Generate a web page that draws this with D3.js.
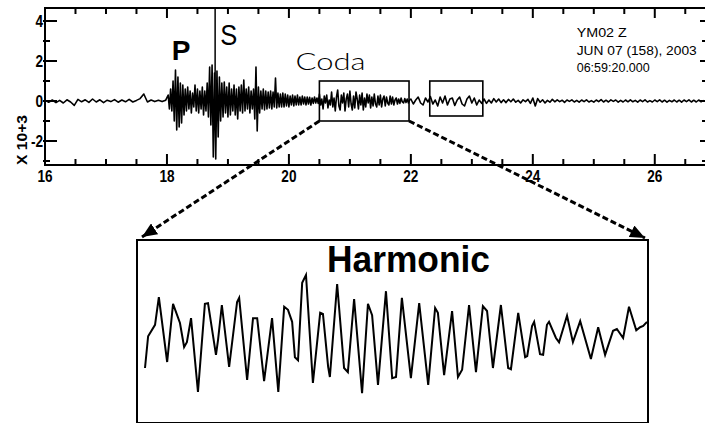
<!DOCTYPE html>
<html>
<head>
<meta charset="utf-8">
<title>YM02 Z seismogram - coda</title>
<script src="https://d3js.org/d3.v7.min.js"></script>
<style>
  body { margin: 0; background: #fff; }
  svg { display: block; font-family: 'Liberation Sans', Arial, sans-serif; }
</style>
</head>
<body>
<svg></svg>
<script>
var width = 705, height = 423;

// time axis in seconds after 06:59, amplitude in counts x 10^3
var xTickLabels = [16, 18, 20, 22, 24, 26];
var yTickLabels = [-2, 0, 2, 4];
var stationLines = ["YM02  Z", "JUN 07 (158), 2003", "06:59:20.000"];

// trace (each piece has its own sample step)
var preEventTrace = [0.04,-0.06,0.05,-0.08,0.03,-0.1,0.06,-0.05,-0.22,0.08,-0.04,0.06,-0.07,0.1,-0.05,0.06,-0.08,0.04,
  -0.03,0.07,-0.06,0.05,-0.04,0.08,-0.05,0.03,0.12,0.35,-0.05,0.05,-0.03,0.04,-0.03,0.04];
var bodyWaveTrace = [0.3,-0.4,0.6,-0.5,
  1.0,-1.0,1.55,-1.45,1.2,-1.3,0.9,-1.1,0.8,-0.7,
  0.6,-0.5,0.7,-0.4,0.5,-0.6,0.4,-0.3,0.8,-0.5,
  0.6,-0.6,0.5,-0.4,0.7,-0.7,0.5,-0.5,0.9,-0.8,
  1.7,-1.2,1.8,-2.8,1.4,-2.9,1.5,-1.8,1.2,-1.0,
  0.9,-0.8,0.95,-0.6,0.7,-0.8,0.9,-0.7,0.6,-0.5,
  0.8,-0.7,0.6,-0.9,0.7,-0.5,0.8,-0.6,1.05,-0.5,
  0.6,-0.4,0.7,-0.6,0.5,-0.4,0.6,-0.9,1.7,-1.5,
  0.7,-0.6,0.5,-0.4,0.6,-0.45,0.5,-0.4,0.45,-0.35,
  0.5,-0.4,0.45,-0.3,1.15,-0.35,0.4,-0.3,0.35,-0.3,
  0.4,-0.3,0.35,-0.25,0.3,-0.3,0.25,-0.2,0.3,-0.25,
  0.25,-0.2,0.3,-0.2,0.2,-0.2,0.25,-0.15,0.2,-0.2,
  0.2,-0.15,0.18,-0.2,0.15,-0.12,0.2,-0.1,0.15,-0.12];
var codaTrace = [0.35,-0.2,0.1,-0.4,0.25,-0.1,0.3,-0.35,0.05,-0.2,
  0.45,-0.3,0.15,-0.5,0.2,0.55,-0.25,-0.45,0.3,-0.1,
  0.4,-0.5,0.1,0.35,-0.3,0.5,-0.15,-0.45,0.25,-0.35,
  0.45,0.1,-0.4,0.3,-0.2,0.4,-0.45,0.15,-0.3,0.35,
  -0.1,0.3,-0.35,0.2,-0.25,0.35,-0.15,-0.3,0.25,-0.2,
  0.3,-0.3,0.1,0.25,-0.25,0.2,-0.1,-0.2,0.25,-0.15,
  0.2,-0.2,0.05,0.15,-0.15,0.1,-0.12,0.15,-0.05,-0.1,
  0.12,-0.08,0.1,-0.1,0.05];
var tailTrace = [0.1,-0.15,0.05,0.2,-0.1,-0.2,0.15,-0.05,0.22,-0.15,
  0.05,-0.25,0.2,-0.1,0.25,-0.2,0.1,0.15,-0.22,0.05,
  0.2,-0.15,-0.25,0.1,0.25,-0.1,0.15,-0.2,0.05,-0.12,
  0.1,-0.12,0.05,-0.1,0.12,-0.05,0.1,-0.08,0.06,-0.08,
  0.08,-0.04,0.1,-0.06,0.03,-0.1,0.06,-0.03,0.08,-0.12,
  0.15,-0.25,0.12,-0.06,0.06,-0.1,0.03,-0.06,0.08,-0.04,
  0.06,-0.03,0.04,-0.07,0.05,-0.02,0.06,-0.05,0.03,-0.06,
  0.05,-0.03,0.06,-0.05,0.02,-0.06,0.05,-0.03,0.07,-0.05,
  0.04,-0.05,0.06,-0.02,0.05,-0.06,0.03,-0.05,0.05,-0.04,
  0.06,-0.04,0.03,-0.06,0.05,-0.03,0.06,-0.05,0.02,-0.05,
  0.05,-0.03,0.06,-0.05,0.04,-0.06,0.03,-0.04,0.05,-0.05,
  0.04,-0.06,0.05,-0.03,0.06,-0.05,0.04,-0.05,0.05,-0.04,0.03];
var traceSegments = [
  {start: 16.00, step: 0.06, values: preEventTrace},
  {start: 18.02, step: 0.02, values: bodyWaveTrace},
  {start: 20.50, step: 0.02, values: codaTrace},
  {start: 22.00, step: 0.04, values: tailTrace}
];

// boxed windows on the record (seconds, counts x 10^3)
var windowStart = [20.5, 22.31];
var windowEnd = [21.97, 23.18];
var windowLow = [-1.0, -0.75];
var windowHigh = [1.0, 1.0];

// zoomed harmonic coda: ms after window start, relative amplitude
var harmonicMs = [0,9,29,40,64,81,101,113,121,133,153,173,182,205,211,222,243,266,272,295,312,324,344,367,385,
  402,413,425,433,442,454,465,485,506,514,529,534,555,575,586,604,627,644,656,673,696,714,725,742,768,792,818,
  838,846,864,887,904,916,936,956,976,988,1005,1028,1049,1057,1078,1098,1104,1118,1124,1141,1150,1161,1167,
  1187,1196,1219,1236,1257,1288,1309,1329,1352,1363,1381,1398,1419,1430,1439,1450];
var harmonicAmp = [-0.5,0.03,0.22,0.68,-0.4,0.57,0.25,-0.15,-0.07,0.33,-0.9,0.57,0.58,-0.28,-0.03,0.55,-0.48,0.6,
  0.67,-0.7,0.33,0.33,-0.72,0.33,-0.9,0.52,0.47,0.27,-0.32,-0.37,0.92,1.05,-0.75,0.42,0.4,-0.48,-0.65,0.9,-0.5,
  -0.57,0.65,-0.92,0.57,0.38,-0.78,0.78,-0.67,-0.65,0.67,-0.67,0.58,-0.78,0.5,0.42,-0.62,0.45,-0.65,-0.53,0.55,
  -0.57,0.53,0.45,-0.5,0.55,-0.5,-0.52,0.42,-0.32,-0.3,0.2,0.27,-0.27,-0.28,0.22,0.27,0,-0.07,0.37,-0.07,0.28,
  -0.35,0.18,-0.28,0.12,0.15,0,0.52,0.13,0.18,0.2,0.27];

var svg = d3.select('svg').attr('width', width).attr('height', height);

var plot = {left: 45, top: 8, right: 706, bottom: 165};
var x = d3.scaleLinear().domain([16, 26.84]).range([plot.left, plot.right]);
var y = d3.scaleLinear().domain([-3.2, 4.65]).range([plot.bottom, plot.top]);

svg.append('defs').append('clipPath').attr('id', 'plotclip')
  .append('rect')
  .attr('x', plot.left).attr('y', plot.top)
  .attr('width', plot.right - plot.left).attr('height', plot.bottom - plot.top);

var tracePoints = [];
traceSegments.forEach(function (s) {
  s.values.forEach(function (v, i) {
    tracePoints.push([s.start + i * s.step, v]);
  });
});

var line = d3.line()
  .x(function (d) { return x(d[0]); })
  .y(function (d) { return y(d[1]); });

svg.append('path')
  .datum(tracePoints)
  .attr('clip-path', 'url(#plotclip)')
  .attr('d', line)
  .attr('fill', 'none')
  .attr('stroke', '#000')
  .attr('stroke-width', 1.6)
  .attr('stroke-linejoin', 'round');

// frame
svg.append('rect')
  .attr('x', plot.left).attr('y', plot.top)
  .attr('width', plot.right - plot.left).attr('height', plot.bottom - plot.top)
  .attr('fill', 'none').attr('stroke', '#000').attr('stroke-width', 2);

// inward ticks on every side
var xTicks = d3.range(16, 26.84, 0.5);
var yTicks = d3.range(-3, 5, 1);
function isMajor(d) { return d % 2 === 0; }

var ticks = svg.append('g').attr('stroke', '#000').attr('stroke-width', 2);
ticks.selectAll('.xb').data(xTicks).enter().append('line')
  .attr('x1', function (d) { return x(d); }).attr('x2', function (d) { return x(d); })
  .attr('y1', plot.bottom).attr('y2', function (d) { return plot.bottom - (isMajor(d) ? 11 : 6); });
ticks.selectAll('.xt').data(xTicks).enter().append('line')
  .attr('x1', function (d) { return x(d); }).attr('x2', function (d) { return x(d); })
  .attr('y1', plot.top).attr('y2', function (d) { return plot.top + (isMajor(d) ? 10 : 6); });
ticks.selectAll('.yl').data(yTicks).enter().append('line')
  .attr('y1', function (d) { return y(d); }).attr('y2', function (d) { return y(d); })
  .attr('x1', plot.left - 2).attr('x2', function (d) { return plot.left + (isMajor(d) ? 12 : 5); });
ticks.selectAll('.yr').data(yTicks).enter().append('line')
  .attr('y1', function (d) { return y(d); }).attr('y2', function (d) { return y(d); })
  .attr('x1', plot.right).attr('x2', function (d) { return plot.right - (isMajor(d) ? 6 : 4); });

// tick labels (narrow bold)
svg.selectAll('.xlab').data(xTickLabels).enter().append('text')
  .attr('transform', function (d) { return 'translate(' + x(d) + ',182) scale(0.85,1)'; })
  .attr('text-anchor', 'middle')
  .style('font-size', '16px').style('font-weight', 'bold')
  .text(function (d) { return d; });

svg.selectAll('.ylab').data(yTickLabels).enter().append('text')
  .attr('transform', function (d) { return 'translate(43,' + (y(d) + 6) + ') scale(0.85,1)'; })
  .attr('text-anchor', 'end')
  .style('font-size', '16px').style('font-weight', 'bold')
  .text(function (d) { return d; });

svg.append('text')
  .attr('transform', 'translate(27,140) rotate(-90)')
  .attr('text-anchor', 'middle')
  .attr('textLength', 50).attr('lengthAdjust', 'spacingAndGlyphs')
  .style('font-size', '14px').style('font-weight', 'bold')
  .text('X 10+3');

// S pick marker and phase labels
svg.append('line')
  .attr('x1', x(18.79)).attr('x2', x(18.79))
  .attr('y1', plot.top).attr('y2', y(0))
  .attr('stroke', '#000').attr('stroke-width', 1.5);

svg.append('text')
  .attr('x', x(18.08)).attr('y', y(2.05))
  .style('font-size', '28px').style('font-weight', 'bold')
  .text('P');

svg.append('text')
  .attr('transform', 'translate(' + x(18.875) + ',' + y(2.8) + ') scale(0.85,1)')
  .style('font-size', '30px')
  .text('S');

svg.append('text')
  .attr('x', x(20.11)).attr('y', y(1.55))
  .attr('textLength', 70).attr('lengthAdjust', 'spacingAndGlyphs')
  .style('font-family', 'Lato, sans-serif').style('font-weight', 300)
  .style('font-size', '24px')
  .text('Coda');

// station header
var headerY = [3.2, 2.32, 1.45];
var headerLen = [50, 120, 73];
svg.selectAll('.hdr').data(stationLines).enter().append('text')
  .attr('x', x(24.72))
  .attr('y', function (d, i) { return y(headerY[i]); })
  .attr('textLength', function (d, i) { return headerLen[i]; })
  .attr('lengthAdjust', 'spacingAndGlyphs')
  .style('font-size', '12.5px')
  .text(function (d) { return d; });

// boxed windows
svg.selectAll('.win').data(windowStart).enter().append('rect')
  .attr('x', function (d) { return x(d); })
  .attr('y', function (d, i) { return y(windowHigh[i]); })
  .attr('width', function (d, i) { return x(windowEnd[i]) - x(d); })
  .attr('height', function (d, i) { return y(windowLow[i]) - y(windowHigh[i]); })
  .attr('fill', 'none').attr('stroke', '#000').attr('stroke-width', 1.6);

// zoom inset
var inset = {left: 137, top: 240, right: 648, bottom: 423};
var ix = d3.scaleLinear().domain([0, 1450]).range([145, 647]);
var iy = d3.scaleLinear().domain([-1, 1]).range([398, 278]);

svg.append('defs').append('marker')
  .attr('id', 'head')
  .attr('viewBox', '0 -6 14 12')
  .attr('refX', 14).attr('refY', 0)
  .attr('markerWidth', 15).attr('markerHeight', 13)
  .attr('markerUnits', 'userSpaceOnUse')
  .attr('orient', 'auto')
  .append('path').attr('d', 'M0,-6L14,0L0,6Z').attr('fill', '#000');

var connectors = [
  [[x(windowStart[0]), y(windowLow[0])], [inset.left + 5, inset.top - 3]],
  [[x(windowEnd[0]), y(windowLow[0])], [inset.right - 3, inset.top - 2]]
];
svg.selectAll('.conn').data(connectors).enter().append('line')
  .attr('x1', function (d) { return d[0][0]; }).attr('y1', function (d) { return d[0][1]; })
  .attr('x2', function (d) { return d[1][0]; }).attr('y2', function (d) { return d[1][1]; })
  .attr('stroke', '#000').attr('stroke-width', 3)
  .attr('stroke-dasharray', '6,3')
  .attr('marker-end', 'url(#head)');

svg.append('rect')
  .attr('x', inset.left).attr('y', inset.top)
  .attr('width', inset.right - inset.left).attr('height', inset.bottom - inset.top)
  .attr('fill', 'none').attr('stroke', '#000').attr('stroke-width', 2);

svg.append('text')
  .attr('x', 327).attr('y', 272)
  .attr('textLength', 163).attr('lengthAdjust', 'spacingAndGlyphs')
  .style('font-size', '37px').style('font-weight', 'bold')
  .text('Harmonic');

svg.append('path')
  .datum(d3.zip(harmonicMs, harmonicAmp))
  .attr('d', d3.line()
    .x(function (d) { return ix(d[0]); })
    .y(function (d) { return iy(d[1]); }))
  .attr('fill', 'none')
  .attr('stroke', '#000')
  .attr('stroke-width', 2);
</script>
</body>
</html>
